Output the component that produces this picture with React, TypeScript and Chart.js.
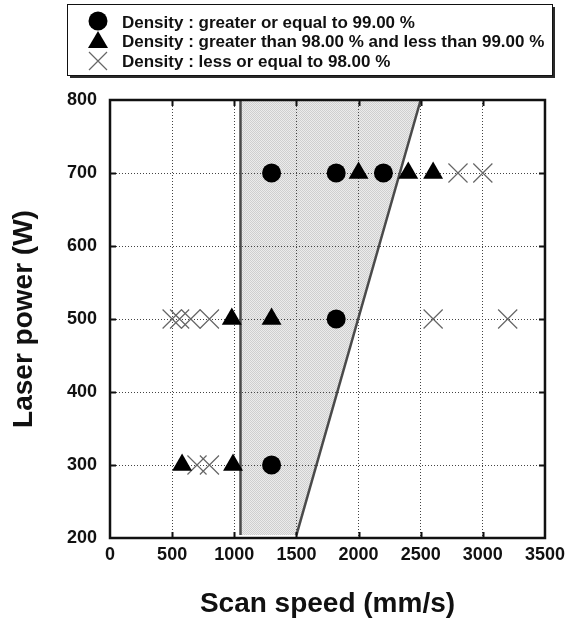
import React, { useEffect, useRef } from 'react';
import { Chart, registerables } from 'chart.js';

Chart.register(...registerables);

// ---- data ----
const xTicks = [0, 500, 1000, 1500, 2000, 2500, 3000, 3500];
const yTicks = [200, 300, 400, 500, 600, 700, 800];

const highSpeed = [1300, 1820, 2200, 1820, 1300];
const highPower = [700, 700, 700, 500, 300];

const midSpeed = [2000, 2400, 2600, 980, 1300, 580, 990];
const midPower = [700, 700, 700, 500, 500, 300, 300];

const lowSpeed = [2800, 3000, 500, 560, 650, 800, 2600, 3200, 700, 800];
const lowPower = [700, 700, 500, 500, 500, 500, 500, 500, 300, 300];

// process window (shaded area) and its two boundary lines
const windowSpeed = [1050, 1050, 2500, 1500];
const windowPower = [204, 800, 800, 204];
const leftEdgeSpeed = [1050, 1050];
const leftEdgePower = [204, 800];
const rightEdgeSpeed = [1500, 2500];
const rightEdgePower = [204, 800];

const legendLabels = [
  'Density : greater or equal to 99.00 %',
  'Density : greater than 98.00 % and less than 99.00 %',
  'Density : less or equal to 98.00 %',
];

const xTitle = 'Scan speed (mm/s)';
const yTitle = 'Laser power (W)';

const FONT = "'Liberation Sans', Arial, Helvetica, sans-serif";

function toPoints(xs: number[], ys: number[]) {
  return xs.map((x, i) => ({ x, y: ys[i] }));
}

function makePattern(): CanvasPattern | string {
  const c = document.createElement('canvas');
  c.width = 2;
  c.height = 2;
  const g = c.getContext('2d');
  if (!g) return '#dcdcdc';
  g.fillStyle = '#ececec';
  g.fillRect(0, 0, 2, 2);
  g.fillStyle = '#cfcfcf';
  g.fillRect(0, 0, 1, 1);
  g.fillRect(1, 1, 1, 1);
  const p = g.createPattern(c, 'repeat');
  return p || '#dcdcdc';
}

const framePlugin = {
  id: 'frameTicks',
  afterDatasetsDraw(chart: any) {
    const { ctx, chartArea } = chart;
    const { left, right, top, bottom } = chartArea;
    const xs = chart.scales.x;
    const ys = chart.scales.y;
    const len = 6;
    ctx.save();
    ctx.strokeStyle = '#111';
    ctx.lineWidth = 2;
    ctx.beginPath();
    xTicks.slice(1, -1).forEach((v) => {
      const px = Math.round(xs.getPixelForValue(v)) + 0.5;
      ctx.moveTo(px, bottom);
      ctx.lineTo(px, bottom - len);
      ctx.moveTo(px, top);
      ctx.lineTo(px, top + len);
    });
    yTicks.slice(1, -1).forEach((v) => {
      const py = Math.round(ys.getPixelForValue(v)) + 0.5;
      ctx.moveTo(left, py);
      ctx.lineTo(left + len, py);
      ctx.moveTo(right, py);
      ctx.lineTo(right - len, py);
    });
    ctx.stroke();
    ctx.lineWidth = 2.5;
    ctx.strokeRect(left, top, right - left, bottom - top);
    ctx.restore();
  },
};

const legendPlugin = {
  id: 'boxLegend',
  afterDraw(chart: any) {
    const { ctx } = chart;
    const bx = 67, by = 4, bw = 485, bh = 71;
    ctx.save();
    ctx.fillStyle = '#2a2a2a';
    ctx.fillRect(bx + 3, by + 3, bw, bh);
    ctx.fillStyle = '#ffffff';
    ctx.fillRect(bx, by, bw, bh);
    ctx.strokeStyle = '#111';
    ctx.lineWidth = 1;
    ctx.strokeRect(bx + 0.5, by + 0.5, bw, bh);

    const mx = 98;
    ctx.fillStyle = '#000';
    ctx.beginPath();
    ctx.arc(mx, 21, 9.5, 0, Math.PI * 2);
    ctx.fill();
    ctx.beginPath();
    ctx.moveTo(mx, 31);
    ctx.lineTo(mx + 10, 48);
    ctx.lineTo(mx - 10, 48);
    ctx.closePath();
    ctx.fill();
    ctx.strokeStyle = '#666';
    ctx.lineWidth = 1.2;
    ctx.beginPath();
    ctx.moveTo(mx - 9, 52);
    ctx.lineTo(mx + 9, 70);
    ctx.moveTo(mx + 9, 52);
    ctx.lineTo(mx - 9, 70);
    ctx.stroke();

    ctx.fillStyle = '#111';
    ctx.font = `bold 17px ${FONT}`;
    ctx.textBaseline = 'middle';
    ctx.textAlign = 'left';
    const rows = [23, 42.5, 62];
    legendLabels.forEach((t, i) => ctx.fillText(t, 122, rows[i]));
    ctx.restore();
  },
};

export default function App() {
  const ref = useRef<HTMLCanvasElement>(null);

  useEffect(() => {
    const canvas = ref.current;
    if (!canvas) return;
    const pattern = makePattern();
    const tickFont = { family: FONT, size: 18, weight: 'bold' as const };
    const titleFont = { family: FONT, size: 28, weight: 'bold' as const };
    const edgeStyle = {
      type: 'line',
      showLine: true,
      pointRadius: 0,
      tension: 0,
      borderWidth: 2.5,
      borderColor: '#4a4a4a',
      fill: false,
    };

    const chart = new Chart(canvas, {
      type: 'scatter',
      data: {
        datasets: [
          {
            label: legendLabels[0],
            data: toPoints(highSpeed, highPower),
            pointStyle: 'circle',
            pointRadius: 9.5,
            pointBackgroundColor: '#000',
            pointBorderWidth: 0,
            borderColor: '#000',
            backgroundColor: '#000',
          },
          {
            label: legendLabels[1],
            data: toPoints(midSpeed, midPower),
            pointStyle: 'triangle',
            pointRadius: 11.5,
            pointBackgroundColor: '#000',
            pointBorderWidth: 0,
            borderColor: '#000',
            backgroundColor: '#000',
          },
          {
            label: legendLabels[2],
            data: toPoints(lowSpeed, lowPower),
            pointStyle: 'crossRot',
            pointRadius: 13.5,
            pointBorderColor: '#666',
            pointBorderWidth: 1.2,
            borderColor: '#666',
            backgroundColor: '#666',
          },
          { ...edgeStyle, label: 'left edge', data: toPoints(leftEdgeSpeed, leftEdgePower) } as any,
          { ...edgeStyle, label: 'right edge', data: toPoints(rightEdgeSpeed, rightEdgePower) } as any,
          {
            type: 'line',
            label: 'window',
            data: toPoints(windowSpeed, windowPower),
            showLine: true,
            pointRadius: 0,
            tension: 0,
            borderWidth: 0,
            borderColor: 'rgba(0,0,0,0)',
            backgroundColor: pattern as any,
            fill: 'shape',
          } as any,
        ],
      },
      options: {
        responsive: false,
        animation: false,
        events: [],
        layout: { padding: { left: 0, right: 24, top: 100, bottom: 0 } },
        plugins: {
          legend: { display: false },
          tooltip: { enabled: false },
          filler: { drawTime: 'beforeDraw' },
        } as any,
        scales: {
          x: {
            type: 'linear',
            min: 0,
            max: 3500,
            afterBuildTicks: (s: any) => {
              s.ticks = xTicks.map((v) => ({ value: v }));
            },
            afterFit: (s: any) => {
              s.height = 83;
            },
            ticks: {
              font: tickFont,
              color: '#111',
              padding: 6,
              maxRotation: 0,
              callback: (v: any) => String(v),
            },
            grid: { color: '#444', lineWidth: 1, drawTicks: false },
            border: { display: false, dash: [1, 2] },
            title: {
              display: true,
              text: xTitle,
              font: titleFont,
              color: '#111',
              padding: { top: 1, bottom: 0 },
            },
          },
          y: {
            type: 'linear',
            min: 200,
            max: 800,
            afterBuildTicks: (s: any) => {
              s.ticks = yTicks.map((v) => ({ value: v }));
            },
            afterFit: (s: any) => {
              s.width = 110;
            },
            ticks: { font: tickFont, color: '#111', padding: 13, callback: (v: any) => String(v) },
            grid: { color: '#444', lineWidth: 1, drawTicks: false },
            border: { display: false, dash: [1, 2] },
            title: {
              display: true,
              text: yTitle,
              font: titleFont,
              color: '#111',
              padding: { top: 7, bottom: 0 },
            },
          },
        },
      } as any,
      plugins: [framePlugin, legendPlugin],
    });
    return () => chart.destroy();
  }, []);

  return (
    <div style={{ position: 'absolute', left: 0, top: 0, width: 571, height: 621, background: '#fff' }}>
      <canvas ref={ref} width={571} height={621} style={{ display: 'block' }} />
    </div>
  );
}
